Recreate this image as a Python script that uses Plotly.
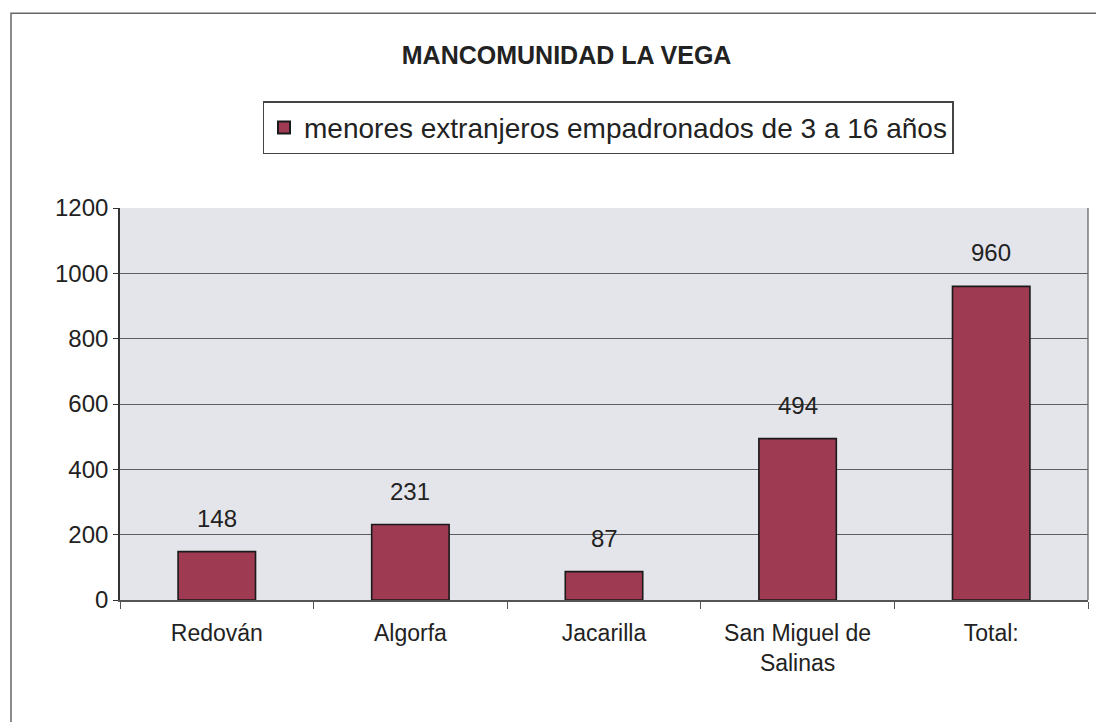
import plotly.graph_objects as go

categories = ["Redován", "Algorfa", "Jacarilla", "San Miguel de<br>Salinas", "Total:"]
values = [148, 231, 87, 494, 960]
series_name = "menores extranjeros empadronados de 3 a 16 años"
title = "MANCOMUNIDAD LA VEGA"
y_ticks = [0, 200, 400, 600, 800, 1000, 1200]

fig = go.Figure()
fig.add_trace(go.Bar(
    x=categories, y=values, name=series_name,
    marker=dict(color="#9e3a52", line=dict(color="#1a1a1a", width=1.6)),
    width=0.4,
    showlegend=True,
))

for c, v in zip(categories, values):
    fig.add_annotation(x=c, y=v, text=str(v), showarrow=False, yanchor="bottom", yshift=18,
                       font=dict(size=24, color="#222222"))

fig.update_layout(
    width=1104, height=722,
    paper_bgcolor="white", plot_bgcolor="#e4e5ea",
    font=dict(family="Liberation Sans, Arial, sans-serif", color="#222222"),
    margin=dict(l=112, r=24, t=200, b=130, autoexpand=False),
    title=dict(text="<b>" + title + "</b>", x=0.506, xanchor="center", xref="container",
               y=0.935, yanchor="middle", yref="container",
               font=dict(size=25, color="#222222")),
    legend=dict(x=0.5435, y=0.834, xanchor="center", yanchor="middle", orientation="h",
                xref="container", yref="container",
                bordercolor="#444444", borderwidth=1.5, bgcolor="white",
                font=dict(size=28, color="#222222"),
                itemsizing="constant"),
    shapes=[dict(type="rect", xref="paper", yref="paper", x0=-0.1126, x1=1.05, y0=-0.35, y1=1.497,
                 line=dict(color="#666666", width=1.5), fillcolor="rgba(0,0,0,0)", layer="below"),
            dict(type="line", xref="paper", yref="paper", x0=1, x1=1, y0=0, y1=1,
                 line=dict(color="#666666", width=1.3))],
)
fig.update_yaxes(range=[0, 1200], tickvals=y_ticks, showgrid=True, gridcolor="#5e5e5e", gridwidth=1.4,
                 showline=True, linecolor="#333333", linewidth=1.6, ticks="outside", ticklen=5,
                 tickcolor="#333333", tickfont=dict(size=24, color="#222222"), zeroline=False)
fig.update_xaxes(showline=True, linecolor="#555555", linewidth=1.6, ticks="outside", ticklen=7,
                 tickcolor="#555555", tickson="boundaries", tickfont=dict(size=23, color="#222222"),
                 ticklabelstandoff=12, mirror=False)

fig.write_html("out.html")
